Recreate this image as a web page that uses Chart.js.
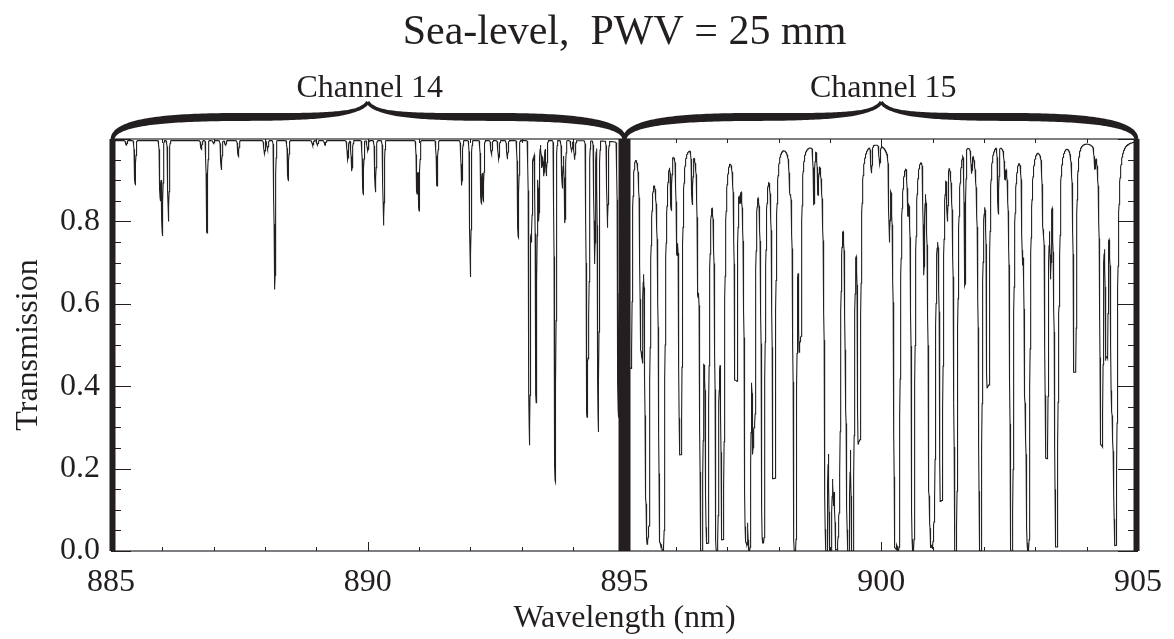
<!DOCTYPE html>
<html>
<head>
<meta charset="utf-8">
<script src="https://cdn.jsdelivr.net/npm/chart.js@4.4.1/dist/chart.umd.min.js"></script>
<style>
  html, body { margin: 0; padding: 0; background: #fff; }
</style>
</head>
<body>
<canvas id="myChart" width="1174" height="639"></canvas>
<script>
// absorption lines: centre (nm) and lowest transmission
const lineCenters14 = [885.30, 885.47, 885.96, 886.00, 886.12, 886.76, 886.87, 887.00, 887.15, 887.23,
    887.48, 887.99, 888.05, 888.19, 888.45, 888.93, 889.02, 889.17, 889.61, 889.69,
    889.91, 890.00, 890.15, 890.31, 890.96, 891.00, 891.35, 891.83, 892.00, 892.21,
    892.25, 892.41, 892.55, 892.72, 892.93, 893.15, 893.19, 893.23, 893.28, 893.33,
    893.39, 893.43, 893.48, 893.65, 893.79, 893.84, 893.97, 894.03, 894.27, 894.30,
    894.42, 894.49, 894.67, 894.88];
const lineMinT14 = [0.985, 0.89, 0.85, 0.765, 0.80, 0.975, 0.772, 0.99, 0.925, 0.985,
    0.958, 0.962, 0.975, 0.635, 0.90, 0.985, 0.985, 0.985, 0.949, 0.922,
    0.866, 0.97, 0.871, 0.79, 0.867, 0.826, 0.886, 0.887, 0.665, 0.844,
    0.85, 0.963, 0.951, 0.951, 0.761, 0.257, 0.753, 0.95, 0.36, 0.80,
    0.93, 0.91, 0.91, 0.168, 0.88, 0.796, 0.97, 0.95, 0.335, 0.50,
    0.697, 0.289, 0.786, 0.325];

const lineCenters15 = [895.12, 895.33, 895.43, 895.46, 895.70, 895.75, 895.91, 896.02, 896.09, 896.32,
    896.43, 896.50, 896.56, 896.61, 896.80, 896.85, 896.91, 897.17, 897.25, 897.37,
    897.43, 897.49, 897.52, 897.70, 897.91, 898.22, 898.32, 898.42, 898.69, 898.77,
    898.93, 899.01, 899.05, 899.09, 899.13, 899.17, 899.32, 899.36, 899.44, 899.57,
    899.81, 899.97, 900.16, 900.28, 900.33, 900.52, 900.62, 900.83, 900.95, 900.98,
    901.02, 901.17, 901.29, 901.45, 901.63, 901.76, 901.93, 902.08, 902.28, 902.41,
    902.54, 902.75, 902.81, 902.86, 903.15, 903.22, 903.30, 903.35, 903.41, 903.47,
    903.77, 904.16, 904.29, 904.39, 904.45, 904.50, 904.56];
const lineMinT15 = [0.45, 0.523, 0.21, 0.08, 0.027, 0.0, 0.866, 0.806, 0.237, 0.866,
    0.753, 0.0, 0.81, 0.02, 0.0, 0.79, 0.03, 0.429, 0.94, 0.027,
    0.0, 0.80, 0.342, 0.02, 0.18, 0.94, 0.0, 0.55, 0.86, 0.90,
    0.0, 0.0, 0.53, 0.37, 0.01, 0.15, 0.58, 0.0, 0.0, 0.283,
    0.93, 0.95, 0.80, 0.01, 0.0, 0.895, 0.0, 0.723, 0.216, 0.056,
    0.116, 0.128, 0.855, 0.0, 0.66, 0.94, 0.0, 0.414, 0.83, 0.94,
    0.0, 0.80, 0.467, 0.0, 0.875, 0.23, 0.75, 0.93, 0.01, 0.80,
    0.438, 0.952, 0.265, 0.51, 0.93, 0.414, 0.015];

const channelEdges = [885, 895, 905];
const channelNames = ['Channel 14', 'Channel 15'];
const chartTitle = 'Sea-level,  PWV = 25 mm';
const xTitle = 'Wavelength (nm)';
const yTitle = 'Transmission';

const INK = '#231f20';
const FONT = '"Liberation Serif", "Times New Roman", serif';

// line shapes (nm): weak lines have a narrow core, the deep channel 15 lines
// have broad walls and a bottom held at the plotted minimum
const SIGMA = 0.012, CONT = 0.996;
const WING = 2.2e-4, GAMMA = 0.008, POW = 2.5;

const lines = [];
lineCenters14.forEach((c, i) => lines.push({ c: c, t: lineMinT14[i], strong: false }));
lineCenters15.forEach((c, i) => lines.push({ c: c, t: lineMinT15[i], strong: lineMinT15[i] < 0.6 }));
lines.forEach(l => {
    l.tau = -Math.log(Math.max(l.t, 0.001) / CONT);
    l.wing = WING * (1 - l.t) * (1 - l.t);
});
const gPow = Math.pow(GAMMA, POW);

function transmission(x) {
    let T = CONT;
    lines.forEach(l => {
        const d = Math.abs(x - l.c);
        if (d > 1.5) return;
        if (l.strong) {
            T *= Math.max(l.t, Math.exp(-l.wing / (Math.pow(d, POW) + gPow)));
        } else {
            T *= Math.exp(-l.tau * Math.exp(-d * d / (2 * SIGMA * SIGMA)));
        }
    });
    return T;
}

let xs = [];
for (let i = 0; i <= 5000; i++) xs.push(885 + i * 0.004);
xs = xs.concat(lines.map(l => l.c)).sort((a, b) => a - b);
const spectrum = xs.map(x => ({ x: x, y: transmission(x) }));

function bez(p, t) {
    const u = 1 - t;
    return [
        u * u * u * p[0][0] + 3 * u * u * t * p[1][0] + 3 * u * t * t * p[2][0] + t * t * t * p[3][0],
        u * u * u * p[0][1] + 3 * u * u * t * p[1][1] + 3 * u * t * t * p[2][1] + t * t * t * p[3][1]
    ];
}

// one half of a curly brace, from the end (e) to the tip (c), filled with a
// stroke that is thicker in the middle
function halfBrace(ctx, e, c, yEnd, yBar, yTip) {
    const dir = c > e ? 1 : -1;
    const m = (e + c) / 2;
    const segA = [[e, yEnd], [e, yBar + 8], [e + dir * 35, yBar], [m, yBar]];
    const segB = [[m, yBar], [c - dir * 45, yBar], [c - dir * 8, yBar - 2], [c, yTip]];
    const pts = [];
    const N = 60;
    for (let i = 0; i <= N; i++) pts.push(bez(segA, i / N));
    for (let i = 1; i <= N; i++) pts.push(bez(segB, i / N));
    const up = [], down = [];
    pts.forEach((p, i) => {
        const a = pts[Math.max(i - 1, 0)], b = pts[Math.min(i + 1, pts.length - 1)];
        let nx = -(b[1] - a[1]), ny = b[0] - a[0];
        const len = Math.hypot(nx, ny) || 1;
        nx /= len; ny /= len;
        const s = i / (pts.length - 1);
        const w = (3.6 + 4.4 * Math.sin(Math.PI * Math.min(s * 1.15, 1))) / 2;
        up.push([p[0] + nx * w, p[1] + ny * w]);
        down.push([p[0] - nx * w, p[1] - ny * w]);
    });
    ctx.beginPath();
    ctx.moveTo(up[0][0], up[0][1]);
    up.forEach(p => ctx.lineTo(p[0], p[1]));
    for (let i = down.length - 1; i >= 0; i--) ctx.lineTo(down[i][0], down[i][1]);
    ctx.closePath();
    ctx.fill();
}

const decor = {
    id: 'decor',
    beforeDatasetsDraw(chart) {
        const { ctx, chartArea: a, scales: { x, y } } = chart;
        ctx.save();
        // grey top and bottom frame
        ctx.strokeStyle = '#7d7e81';
        ctx.lineWidth = 2;
        ctx.beginPath();
        ctx.moveTo(a.left, a.top); ctx.lineTo(a.right, a.top);
        ctx.moveTo(a.left, a.bottom); ctx.lineTo(a.right, a.bottom);
        ctx.stroke();
        // inward tick marks on all four sides
        ctx.strokeStyle = INK;
        ctx.lineWidth = 1;
        ctx.beginPath();
        for (let v = 885; v <= 905; v++) {
            const px = Math.round(x.getPixelForValue(v)) + 0.5;
            const len = v % 5 === 0 ? 9 : 4;
            ctx.moveTo(px, a.bottom); ctx.lineTo(px, a.bottom - len);
            ctx.moveTo(px, a.top); ctx.lineTo(px, a.top + len);
        }
        for (let k = 0; k <= 20; k++) {
            const py = Math.round(y.getPixelForValue(k * 0.05)) + 0.5;
            const len = k % 4 === 0 ? 20 : 10;
            ctx.moveTo(a.left, py); ctx.lineTo(a.left + len, py);
            ctx.moveTo(a.right, py); ctx.lineTo(a.right - len, py);
        }
        ctx.stroke();
        ctx.restore();
    },
    afterDatasetsDraw(chart) {
        const { ctx, chartArea: a, scales: { x } } = chart;
        ctx.save();
        const p0 = x.getPixelForValue(channelEdges[0]) + 1.5;
        const p1 = x.getPixelForValue(channelEdges[1]);
        const p2 = x.getPixelForValue(channelEdges[2]) - 1.5;
        // thick channel boundaries
        ctx.strokeStyle = INK;
        ctx.fillStyle = INK;
        ctx.lineCap = 'butt';
        [[p0, 6], [p1, 12], [p2, 6]].forEach(([px, w]) => {
            ctx.lineWidth = w;
            ctx.beginPath();
            ctx.moveTo(px, a.top);
            ctx.lineTo(px, a.bottom);
            ctx.stroke();
        });
        // curly braces with channel names
        const yEnd = a.top + 1, yBar = 117, yTip = 102;
        ctx.font = '32px ' + FONT;
        ctx.textAlign = 'center';
        ctx.textBaseline = 'alphabetic';
        [[p0, p1], [p1, p2]].forEach(([l, r], i) => {
            const c = x.getPixelForValue((channelEdges[i] + channelEdges[i + 1]) / 2);
            halfBrace(ctx, l, c, yEnd, yBar, yTip);
            halfBrace(ctx, r, c, yEnd, yBar, yTip);
            ctx.fillText(channelNames[i], c + 2, 97);
        });
        // title
        ctx.font = '42px ' + FONT;
        ctx.fillText(chartTitle, (a.left + a.right) / 2, 44);
        ctx.restore();
    }
};

const ctx = document.getElementById('myChart').getContext('2d');
const myChart = new Chart(ctx, {
    type: 'line',
    data: {
        datasets: [{
            data: spectrum,
            borderColor: INK,
            borderWidth: 1.1,
            pointRadius: 0,
            tension: 0,
            fill: false
        }]
    },
    options: {
        responsive: false,
        animation: false,
        devicePixelRatio: 1,
        layout: { padding: { top: 139, right: 36, bottom: 0, left: 0 } },
        plugins: {
            legend: { display: false },
            tooltip: { enabled: false }
        },
        scales: {
            x: {
                type: 'linear',
                min: 885,
                max: 905,
                ticks: { stepSize: 5, padding: 12, maxRotation: 0, color: INK, font: { family: FONT, size: 32 } },
                grid: { display: false, drawTicks: false },
                border: { display: false },
                title: { display: true, text: xTitle, color: INK, font: { family: FONT, size: 32 }, padding: { top: 0, bottom: 1 } },
                afterFit: s => { s.height = 88; }
            },
            y: {
                min: 0,
                max: 1,
                ticks: {
                    stepSize: 0.2,
                    padding: 11,
                    color: INK,
                    font: { family: FONT, size: 32 },
                    callback: v => v > 0.99 ? '' : v.toFixed(1)
                },
                grid: { display: false, drawTicks: false },
                border: { display: false },
                title: { display: true, text: yTitle, color: INK, font: { family: FONT, size: 32 }, padding: { top: 9, bottom: 0 } },
                afterFit: s => { s.width = 111; }
            }
        }
    },
    plugins: [decor]
});
</script>
</body>
</html>
